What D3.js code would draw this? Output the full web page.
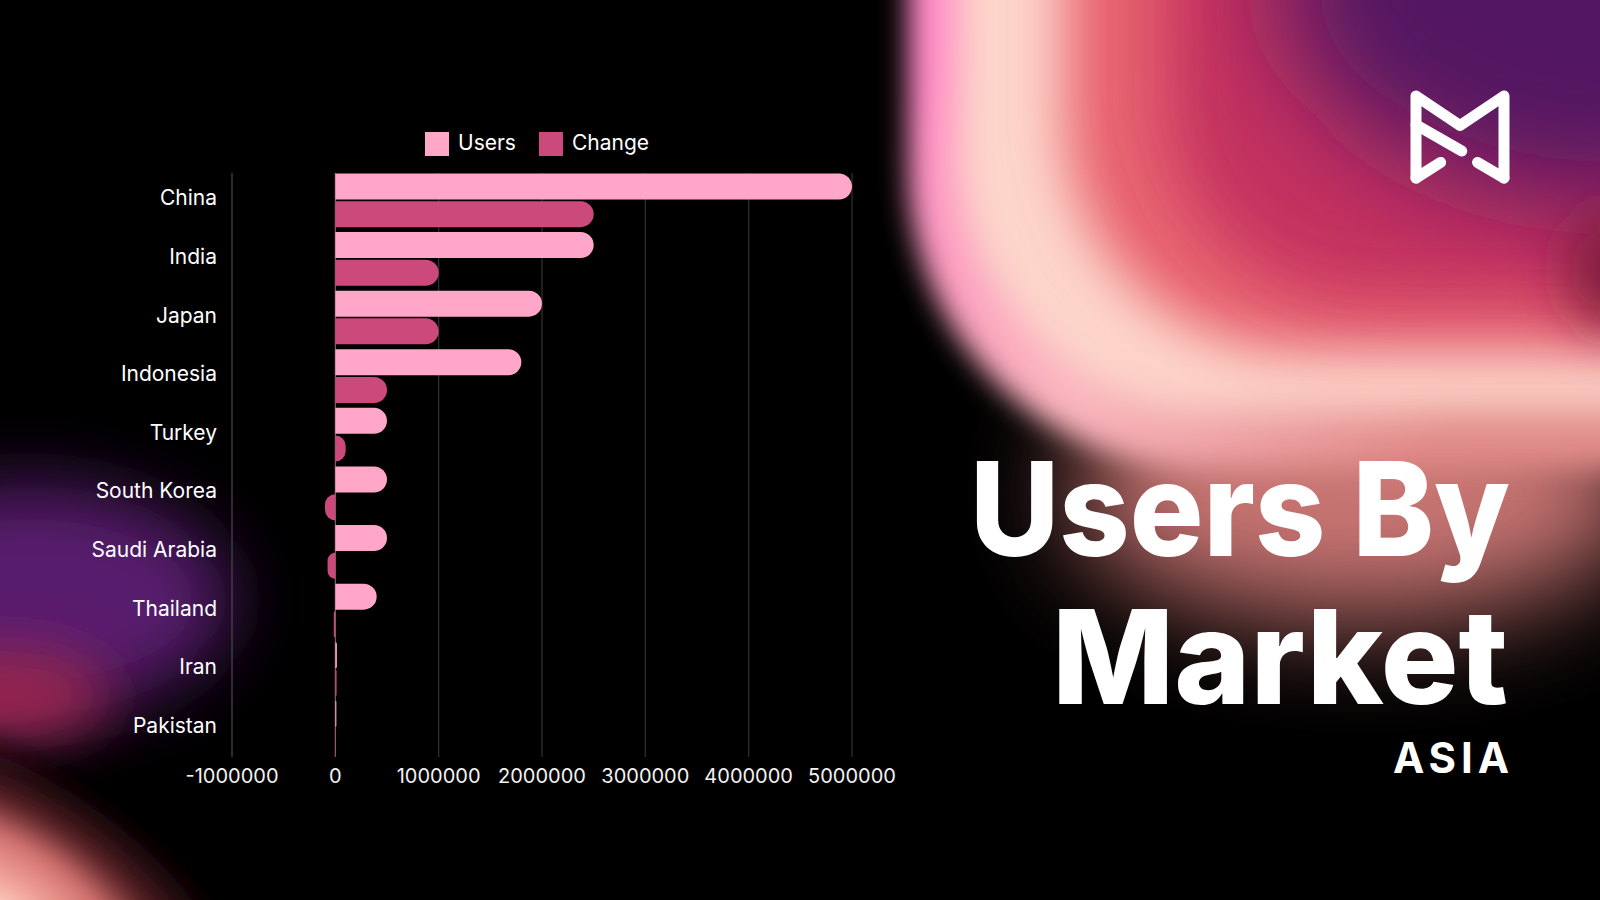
<!DOCTYPE html>
<html>
<head>
<meta charset="utf-8">
<script src="https://cdn.jsdelivr.net/npm/d3@7/dist/d3.min.js"></script>
<style>
  html, body { margin: 0; padding: 0; background: #000; }
  svg { display: block; }
  text { font-family: Inter, "Noto Sans", sans-serif; }
</style>
</head>
<body>
<svg id="chart" width="1600" height="900"></svg>
<script>
// ---------- data ----------
const categories = ["China", "India", "Japan", "Indonesia", "Turkey", "South Korea", "Saudi Arabia", "Thailand", "Iran", "Pakistan"];
const users  = [5000000, 2500000, 2000000, 1800000, 500000, 500000, 500000, 400000, 15000, 10000];
const change = [2500000, 1000000, 1000000, 500000, 100000, -100000, -75000, -15000, 12000, 5000];
const seriesNames = ["Users", "Change"];
const seriesColors = ["#ffa6c9", "#cc4a7b"];
const xTicks = [-1000000, 0, 1000000, 2000000, 3000000, 4000000, 5000000];
const titleLines = ["Users By", "Market"];
const subtitle = "ASIA";

const svg = d3.select("#chart");
const defs = svg.append("defs");

// ---------- background ----------
function blur(id, sd) {
  defs.append("filter").attr("id", id)
    .attr("filterUnits", "userSpaceOnUse")
    .attr("x", -400).attr("y", -400).attr("width", 2400).attr("height", 1700)
    .append("feGaussianBlur").attr("stdDeviation", sd);
}
blur("b8", 8); blur("b14", 14); blur("b20", 20); blur("b28", 28);
blur("b35", 35); blur("b45", 45); blur("b55", 55);

const outerGrad = defs.append("linearGradient").attr("id", "outerGrad")
  .attr("gradientUnits", "userSpaceOnUse")
  .attr("x1", 920).attr("y1", 80).attr("x2", 1350).attr("y2", 520);
outerGrad.append("stop").attr("offset", 0).attr("stop-color", "#ff86c4");
outerGrad.append("stop").attr("offset", 0.55).attr("stop-color", "#f9b4bc");
outerGrad.append("stop").attr("offset", 1).attr("stop-color", "#e08a88");

const cornerGrad = defs.append("radialGradient").attr("id", "cornerGrad");
cornerGrad.append("stop").attr("offset", 0).attr("stop-color", "#fde0d4");
cornerGrad.append("stop").attr("offset", 0.2).attr("stop-color", "#f4a89c");
cornerGrad.append("stop").attr("offset", 0.45).attr("stop-color", "#d2706e");
cornerGrad.append("stop").attr("offset", 0.64).attr("stop-color", "#6a262c").attr("stop-opacity", 0.8);
cornerGrad.append("stop").attr("offset", 0.84).attr("stop-color", "#2a0e12").attr("stop-opacity", 0.55);
cornerGrad.append("stop").attr("offset", 1).attr("stop-color", "#000").attr("stop-opacity", 0);

const bg = svg.append("g").attr("class", "background");
bg.append("rect").attr("width", 1600).attr("height", 900).attr("fill", "#000");

// top-right glow
bg.append("ellipse").attr("cx", 1360).attr("cy", 490).attr("rx", 290).attr("ry", 130)
  .attr("fill", "#c87472").attr("filter", "url(#b55)");
bg.append("rect").attr("x", 908).attr("y", -400).attr("width", 1000).attr("height", 870)
  .attr("rx", 300).attr("fill", "url(#outerGrad)").attr("filter", "url(#b14)");
bg.append("rect").attr("x", 955).attr("y", -400).attr("width", 1000).attr("height", 810)
  .attr("rx", 260).attr("fill", "#fdd6ca").attr("filter", "url(#b20)");
bg.append("rect").attr("x", 1065).attr("y", -400).attr("width", 900).attr("height", 750)
  .attr("rx", 230).attr("fill", "#e8646f").attr("filter", "url(#b28)");
bg.append("rect").attr("x", 1165).attr("y", -400).attr("width", 800).attr("height", 700)
  .attr("rx", 200).attr("fill", "#c4325e").attr("filter", "url(#b35)");
bg.append("ellipse").attr("cx", 1620).attr("cy", -20).attr("rx", 340).attr("ry", 220)
  .attr("fill", "#531762").attr("filter", "url(#b55)");
bg.append("ellipse").attr("cx", 1615).attr("cy", 270).attr("rx", 45).attr("ry", 60)
  .attr("fill", "#7a1c3a").attr("filter", "url(#b28)");

// bottom-left glow
bg.append("ellipse").attr("cx", 30).attr("cy", 600).attr("rx", 200).attr("ry", 115)
  .attr("fill", "#581a6e").attr("filter", "url(#b35)");
bg.append("ellipse").attr("cx", 0).attr("cy", 695).attr("rx", 110).attr("ry", 45)
  .attr("fill", "#9a2850").attr("filter", "url(#b28)");
bg.append("ellipse").attr("cx", 0).attr("cy", 920).attr("rx", 320).attr("ry", 170)
  .attr("fill", "url(#cornerGrad)").attr("transform", "rotate(33 0 920)").attr("filter", "url(#b8)");

// ---------- scales ----------
const x = d3.scaleLinear().domain([-1000000, 5000000]).range([232, 852]);
const y = d3.scaleBand().domain(categories).range([171, 757]).paddingInner(0).paddingOuter(0);
const ySub = d3.scaleBand().domain(seriesNames).range([0, y.bandwidth()])
  .paddingInner(0.061).paddingOuter(0.088);
const color = d3.scaleOrdinal().domain(seriesNames).range(seriesColors);

const chart = svg.append("g").attr("class", "chart");

// gridlines
const gridTop = 173, gridBottom = 757;
chart.append("g").selectAll("line").data(xTicks).join("line")
  .attr("x1", d => x(d)).attr("x2", d => x(d))
  .attr("y1", gridTop).attr("y2", gridBottom)
  .attr("stroke", d => d === 0 ? "#7c6068" : (d === xTicks[0] ? "#4a4a4a" : "#333"))
  .attr("stroke-width", 1.2);

// x tick labels
chart.append("g").selectAll("text").data(xTicks).join("text")
  .attr("x", d => x(d)).attr("y", 783)
  .attr("text-anchor", "middle")
  .attr("fill", "#f2f2f2").attr("font-size", 20)
  .text(d => d3.format("d")(d).replace("\u2212", "-"));

// y labels
chart.append("g").selectAll("text").data(categories).join("text")
  .attr("x", 217).attr("y", d => y(d) + y.bandwidth() / 2 + 5)
  .attr("text-anchor", "end")
  .attr("fill", "#ffffff").attr("font-size", 21)
  .text(d => d);

// bars with rounded outer end
function barPath(v, top, h) {
  const x0 = x(0), x1 = x(v);
  const w = Math.abs(x1 - x0);
  if (w < 0.01) return "";
  const r = Math.min(h / 2, w);
  const s = v >= 0 ? 1 : -1;
  const sweep = v >= 0 ? 1 : 0;
  return `M${x0},${top} H${x1 - s * r} A${r},${r} 0 0 ${sweep} ${x1},${top + r} ` +
         `V${top + h - r} A${r},${r} 0 0 ${sweep} ${x1 - s * r},${top + h} H${x0} Z`;
}
const rows = categories.map((c, i) => ({ c, vals: [users[i], change[i]] }));
const rowG = chart.append("g").selectAll("g").data(rows).join("g")
  .attr("transform", d => `translate(0,${y(d.c)})`);
rowG.selectAll("path").data(d => d.vals.map((v, j) => ({ v, s: seriesNames[j] }))).join("path")
  .attr("d", d => barPath(d.v, ySub(d.s), ySub.bandwidth()))
  .attr("fill", d => color(d.s));

// legend
const legendX = [425, 539];
const lg = chart.append("g").selectAll("g").data(seriesNames).join("g")
  .attr("transform", (d, i) => `translate(${legendX[i]},132)`);
lg.append("rect").attr("width", 24).attr("height", 24).attr("fill", d => color(d));
lg.append("text").attr("x", 33).attr("y", 18).attr("fill", "#fff").attr("font-size", 21).text(d => d);

// ---------- title ----------
const title = svg.append("g").attr("class", "title");
title.append("text").attr("x", 970).attr("y", 556)
  .attr("font-size", 131).attr("font-weight", 800).attr("fill", "#fff")
  .attr("textLength", 540).attr("lengthAdjust", "spacingAndGlyphs")
  .text(titleLines[0]);
title.append("text").attr("x", 1052).attr("y", 704)
  .attr("font-size", 131).attr("font-weight", 800).attr("fill", "#fff")
  .attr("textLength", 456).attr("lengthAdjust", "spacingAndGlyphs")
  .text(titleLines[1]);
title.append("text").attr("x", 1393).attr("y", 773)
  .attr("font-size", 42).attr("font-weight", 700).attr("fill", "#fff")
  .attr("textLength", 116).attr("lengthAdjust", "spacing")
  .text(subtitle);

// ---------- logo ----------
const logo = svg.append("g").attr("class", "logo")
  .attr("fill", "none").attr("stroke", "#fff").attr("stroke-width", 11)
  .attr("stroke-linecap", "round").attr("stroke-linejoin", "round");
const L = 1416, R = 1504, T = 96, B = 178, W = R - L, H = B - T;
logo.append("path").attr("d",
  `M${L},${B} V${T} L${L + W * 0.5},${T + H * 0.36} L${R},${T} V${B}`);
logo.append("path").attr("d", `M${L},${T + H * 0.35} L${L + W * 0.52},${T + H * 0.67}`);
logo.append("path").attr("d", `M${L},${B} L${L + W * 0.28},${T + H * 0.81}`);
logo.append("path").attr("d", `M${L + W * 0.70},${T + H * 0.81} L${R},${B}`);
</script>
</body>
</html>
